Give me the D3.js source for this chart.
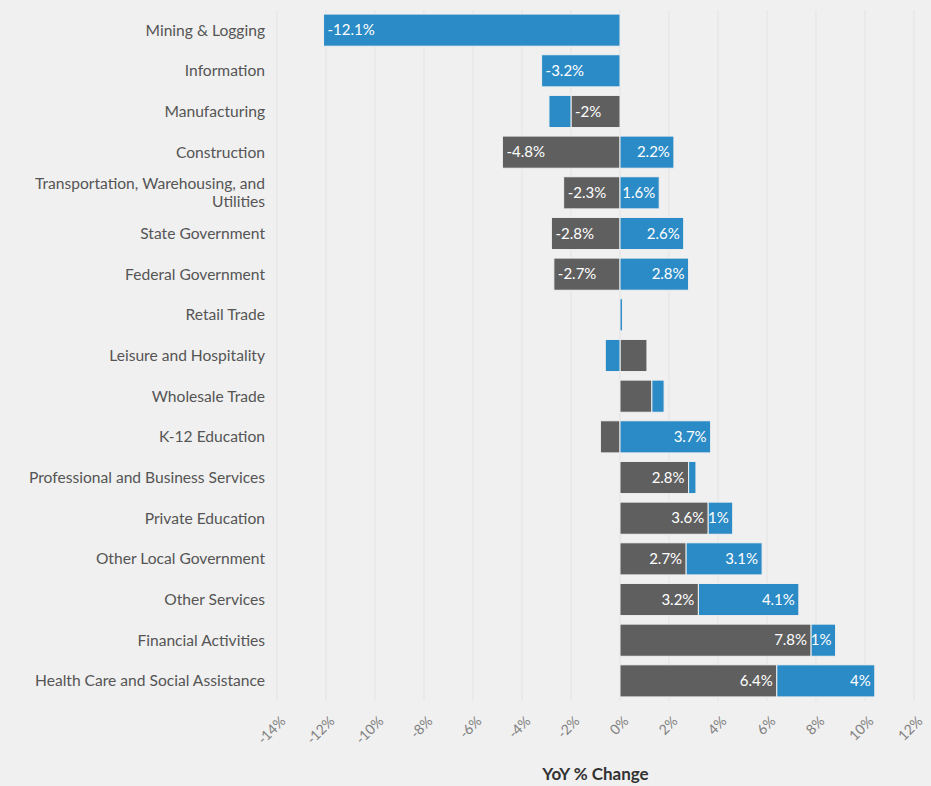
<!DOCTYPE html>
<html>
<head>
<meta charset="utf-8">
<script src="https://cdn.jsdelivr.net/npm/d3@7"></script>
<style>
  html, body { margin: 0; padding: 0; background: #f0f0f0; }
  svg { display: block; font-family: Lato, "Noto Sans", sans-serif; }
</style>
</head>
<body>
<svg id="chart" width="931" height="786"></svg>
<script>
// Industries, top to bottom
const categories = [
  "Mining & Logging",
  "Information",
  "Manufacturing",
  "Construction",
  "Transportation, Warehousing, and Utilities",
  "State Government",
  "Federal Government",
  "Retail Trade",
  "Leisure and Hospitality",
  "Wholesale Trade",
  "K-12 Education",
  "Professional and Business Services",
  "Private Education",
  "Other Local Government",
  "Other Services",
  "Financial Activities",
  "Health Care and Social Assistance"
];
// Year-over-year % change, two stacked components
const grayValues = [0, 0, -2, -4.8, -2.3, -2.8, -2.7, 0, 1.1, 1.3, -0.8, 2.8, 3.6, 2.7, 3.2, 7.8, 6.4];
const blueValues = [-12.1, -3.2, -0.9, 2.2, 1.6, 2.6, 2.8, 0.1, -0.6, 0.5, 3.7, 0.3, 1, 3.1, 4.1, 1, 4];
const tickValues = [-14, -12, -10, -8, -6, -4, -2, 0, 2, 4, 6, 8, 10, 12];
const seriesKeys = ["gray", "blue"];
const seriesColors = { gray: "#5f5f5f", blue: "#2b8bc6" };

const rows = categories.map((c, i) => ({ category: c, gray: grayValues[i], blue: blueValues[i] }));

const svg = d3.select("#chart");
const plot = { left: 277, right: 914, top: 10, bottom: 701 };

const x = d3.scaleLinear().domain([-14, 12]).range([plot.left, plot.right]);
const y = d3.scaleBand().domain(categories).range([plot.top, plot.bottom]).paddingInner(0.21).paddingOuter(0.1);

// vertical gridlines
svg.append("g")
  .selectAll("line")
  .data(tickValues)
  .join("line")
  .attr("x1", d => x(d)).attr("x2", d => x(d))
  .attr("y1", plot.top).attr("y2", plot.bottom)
  .attr("stroke", "#e3e3e3").attr("stroke-width", 1);

// stacked diverging bars
const stacked = d3.stack().keys(seriesKeys).offset(d3.stackOffsetDiverging)(rows);

const layers = svg.append("g")
  .selectAll("g")
  .data(stacked)
  .join("g")
  .attr("fill", d => seriesColors[d.key]);

layers.selectAll("rect")
  .data(d => d.map(s => ({ s, key: d.key })))
  .join("rect")
  .attr("x", d => x(Math.min(d.s[0], d.s[1])))
  .attr("y", d => y(d.s.data.category))
  .attr("width", d => Math.abs(x(d.s[1]) - x(d.s[0])))
  .attr("height", y.bandwidth())
  .attr("stroke", "#f0f0f0")
  .attr("stroke-width", 1);

// value labels inside segments, kept only where they fit
const labels = svg.append("g")
  .attr("font-size", 15)
  .attr("fill", "#ffffff");

stacked.forEach(layer => {
  layer.forEach(s => {
    const v = s.data[layer.key];
    if (v === 0) return;
    const lo = Math.min(s[0], s[1]), hi = Math.max(s[0], s[1]);
    const w = x(hi) - x(lo);
    const t = labels.append("text")
      .attr("y", y(s.data.category) + y.bandwidth() / 2)
      .attr("dy", "0.35em")
      .text(v + "%");
    if (v < 0) t.attr("x", x(lo) + 4).attr("text-anchor", "start");
    else t.attr("x", x(hi) - 4).attr("text-anchor", "end");
    if (t.node().getComputedTextLength() + 3 > w) t.remove();
  });
});

// category labels, wrapped at a fixed width
const catG = svg.append("g")
  .attr("font-size", 15.6)
  .attr("fill", "#555555")
  .attr("text-anchor", "end");

categories.forEach(c => {
  const cy = y(c) + y.bandwidth() / 2;
  const t = catG.append("text").attr("x", 265).attr("y", cy);
  const words = c.split(" ");
  let lines = [];
  let line = [];
  words.forEach(wd => {
    line.push(wd);
    t.text(line.join(" "));
    if (t.node().getComputedTextLength() > 245 && line.length > 1) {
      line.pop();
      lines.push(line.join(" "));
      line = [wd];
    }
  });
  lines.push(line.join(" "));
  t.text(null);
  const lh = 18;
  lines.forEach((ln, i) => {
    t.append("tspan")
      .attr("x", 265)
      .attr("y", cy + (i - (lines.length - 1) / 2) * lh)
      .attr("dy", "0.35em")
      .text(ln);
  });
});

// x axis with rotated tick labels
const xAxis = svg.append("g")
  .attr("transform", `translate(0,${plot.bottom + 6})`)
  .call(d3.axisBottom(x).tickValues(tickValues).tickFormat(d => d + "%").tickSize(0));
xAxis.select(".domain").remove();
xAxis.selectAll("text")
  .attr("font-family", "Lato, 'Noto Sans', sans-serif")
  .attr("font-size", 14)
  .attr("fill", "#808080")
  .attr("text-anchor", "end")
  .attr("dy", null)
  .attr("y", 0)
  .attr("transform", "translate(9,15) rotate(-45)");

// axis title
svg.append("text")
  .attr("x", (plot.left + plot.right) / 2)
  .attr("y", 780)
  .attr("text-anchor", "middle")
  .attr("font-size", 17)
  .attr("font-weight", "bold")
  .attr("fill", "#333333")
  .text("YoY % Change");
</script>
</body>
</html>
